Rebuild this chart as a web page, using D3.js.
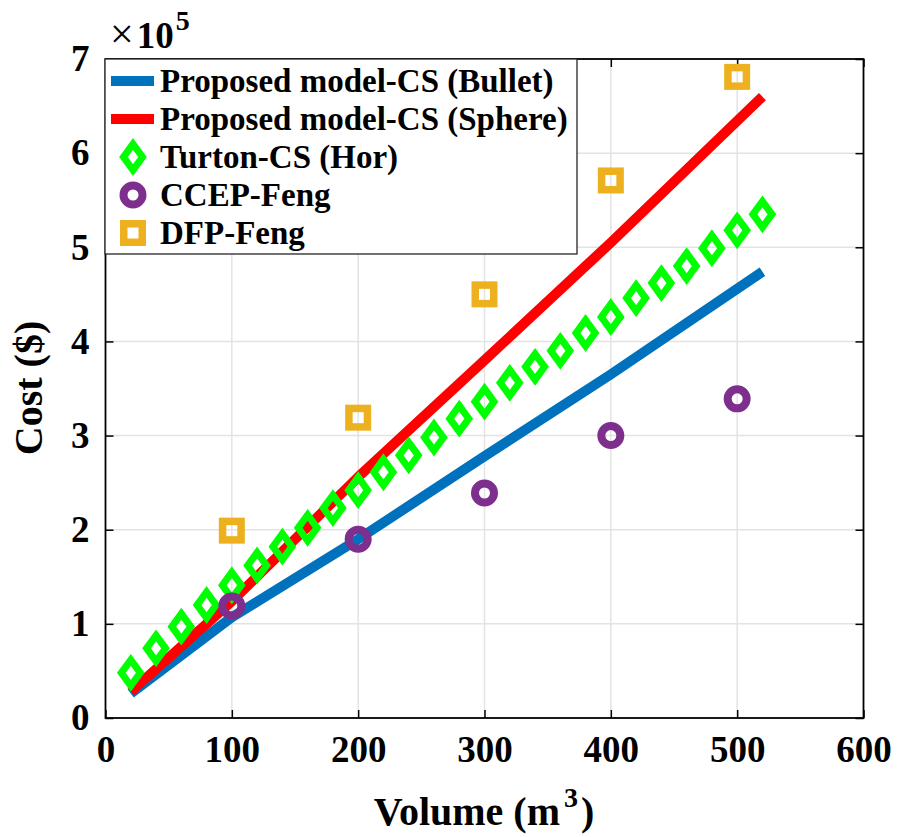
<!DOCTYPE html>
<html><head><meta charset="utf-8">
<script src="https://cdn.jsdelivr.net/npm/d3@7"></script>
<style>body{margin:0;background:#fff}svg{display:block}</style>
</head><body>
<svg id="c" width="901" height="837"></svg>
<script>
// ---- data ----
const xTicks = [0, 100, 200, 300, 400, 500, 600];
const yTicks = [0, 1, 2, 3, 4, 5, 6, 7]; // ×10^5
const lineX = [20, 100, 200, 300, 400, 520];
const bulletCost = [26000, 107000, 190000, 278000, 365000, 474000];
const sphereCost = [28000, 124000, 256000, 380000, 505000, 660000];
const turtonX = [20,40,60,80,100,120,140,160,180,200,220,240,260,280,300,320,340,360,380,400,420,440,460,480,500,520];
const turtonCost = [48000,74000,97000,120000,141000,162000,182000,202000,223000,242000,261000,279000,298000,318000,336000,356000,373000,390000,409000,426000,446000,462000,480000,499000,518000,535000];
const fengX = [100, 200, 300, 400, 500];
const ccepCost = [119000, 190000, 239000, 300000, 339000];
const dfpCost = [199000, 319000, 450000, 571000, 681000];
const legendLabels = ["Proposed model-CS (Bullet)", "Proposed model-CS (Sphere)", "Turton-CS (Hor)", "CCEP-Feng", "DFP-Feng"];

const colors = {blue:"#0072BD", red:"#FF0000", green:"#00FF00", purple:"#7E2F8E", orange:"#EDB120"};
const FONT = "'Liberation Serif','Times New Roman',Times,serif";

const svg = d3.select("#c");
const L = 105.5, R = 863.5, T = 59, B = 718;
const x = d3.scaleLinear().domain([0, 600]).range([L, R]);
const y = d3.scaleLinear().domain([0, 700000]).range([B, T]);

// grid
const g = svg.append("g");
g.selectAll(".gx").data(xTicks.slice(1, -1)).join("line")
  .attr("x1", d => x(d)).attr("x2", d => x(d)).attr("y1", T).attr("y2", B)
  .attr("stroke", "#e3e3e3").attr("stroke-width", 1.5);
g.selectAll(".gy").data(yTicks.slice(1, -1)).join("line")
  .attr("y1", d => y(d * 1e5)).attr("y2", d => y(d * 1e5)).attr("x1", L).attr("x2", R)
  .attr("stroke", "#e3e3e3").attr("stroke-width", 1.5);

// axes with inward ticks on all sides
const tickLen = 8;
const ax = svg.append("g").attr("transform", `translate(0,${B})`)
  .call(d3.axisBottom(x).tickValues(xTicks).tickSizeInner(-tickLen).tickSizeOuter(0).tickPadding(18));
const axTop = svg.append("g").attr("transform", `translate(0,${T})`)
  .call(d3.axisTop(x).tickValues(xTicks).tickSizeInner(-tickLen).tickSizeOuter(0).tickFormat(""));
const ay = svg.append("g").attr("transform", `translate(${L},0)`)
  .call(d3.axisLeft(y).tickValues(yTicks.map(v => v * 1e5)).tickFormat(d => d / 1e5).tickSizeInner(-tickLen).tickSizeOuter(0).tickPadding(16));
const ayR = svg.append("g").attr("transform", `translate(${R},0)`)
  .call(d3.axisRight(y).tickValues(yTicks.map(v => v * 1e5)).tickSizeInner(-tickLen).tickSizeOuter(0).tickFormat(""));
[ax, axTop, ay, ayR].forEach(a => {
  a.select(".domain").remove();
  a.selectAll(".tick line").attr("stroke", "#000").attr("stroke-width", 1.5);
  a.selectAll("text").attr("font-family", FONT).attr("font-weight", "bold").attr("font-size", 37).attr("fill", "#000");
});
ax.selectAll("text").attr("dy", "0.71em");
svg.append("rect").attr("x", L).attr("y", T).attr("width", R - L).attr("height", B - T)
  .attr("fill", "none").attr("stroke", "#000").attr("stroke-width", 1.8);

// lines
const line = d3.line().x(d => x(d[0])).y(d => y(d[1]));
svg.append("path").datum(lineX.map((v, i) => [v, bulletCost[i]])).attr("d", line)
  .attr("fill", "none").attr("stroke", colors.blue).attr("stroke-width", 10).attr("stroke-linejoin", "round");
svg.append("path").datum(lineX.map((v, i) => [v, sphereCost[i]])).attr("d", line)
  .attr("fill", "none").attr("stroke", colors.red).attr("stroke-width", 10).attr("stroke-linejoin", "round");

// markers
const dW = 9.5, dH = 13;
const diamondPath = `M0,${-dH}L${dW},0L0,${dH}L${-dW},0Z`;
function diamond(sel) { sel.attr("d", diamondPath).attr("fill", "none").attr("stroke", colors.green).attr("stroke-width", 7); }
function circle(sel) { sel.attr("r", 9.5).attr("fill", "none").attr("stroke", colors.purple).attr("stroke-width", 8); }
function square(sel) { sel.attr("x", -9.25).attr("y", -9.25).attr("width", 18.5).attr("height", 18.5).attr("fill", "none").attr("stroke", colors.orange).attr("stroke-width", 7.5); }

svg.append("g").selectAll("path").data(turtonX.map((v, i) => [v, turtonCost[i]])).join("path")
  .attr("transform", d => `translate(${x(d[0])},${y(d[1])})`).call(diamond);
svg.append("g").selectAll("circle").data(fengX.map((v, i) => [v, ccepCost[i]])).join("circle")
  .attr("cx", d => x(d[0])).attr("cy", d => y(d[1])).call(circle);
svg.append("g").selectAll("rect").data(fengX.map((v, i) => [v, dfpCost[i]])).join("rect")
  .attr("transform", d => `translate(${x(d[0])},${y(d[1])})`).call(square);

// legend
const lg = svg.append("g");
lg.append("rect").attr("x", 105).attr("y", 59).attr("width", 472).attr("height", 195)
  .attr("fill", "#fff").attr("stroke", "#262626").attr("stroke-width", 1.3);
legendLabels.forEach((lab, i) => {
  const cy = 81 + i * 38;
  const row = lg.append("g");
  if (i === 0 || i === 1) {
    row.append("line").attr("x1", 111).attr("x2", 154).attr("y1", cy).attr("y2", cy)
      .attr("stroke", i === 0 ? colors.blue : colors.red).attr("stroke-width", 10);
  } else if (i === 2) {
    row.append("path").attr("transform", `translate(133,${cy})`).call(diamond);
  } else if (i === 3) {
    row.append("circle").attr("cx", 133).attr("cy", cy).call(circle);
  } else {
    row.append("rect").attr("transform", `translate(133,${cy})`).call(square);
  }
  row.append("text").attr("x", 160).attr("y", cy + 11).text(lab)
    .attr("font-family", FONT).attr("font-weight", "bold").attr("font-size", 33).attr("fill", "#000");
});

// exponent label
const ex = svg.append("text").attr("x", 110).attr("y", 48).attr("font-family", FONT).attr("fill", "#000");
ex.append("tspan").text("×").attr("font-size", 42);
ex.append("tspan").text("10").attr("font-size", 37).attr("font-weight", "bold").attr("dx", 3);
ex.append("tspan").text("5").attr("font-size", 28).attr("font-weight", "bold").attr("dy", -18).attr("dx", 2);

// axis labels
const xl = svg.append("text").attr("x", 484).attr("y", 825).attr("text-anchor", "middle")
  .attr("font-family", FONT).attr("font-weight", "bold").attr("font-size", 40).attr("fill", "#000");
xl.append("tspan").text("Volume (m");
xl.append("tspan").text("3").attr("font-size", 28).attr("dy", -18).attr("dx", 4);
xl.append("tspan").text(")").attr("dy", 18).attr("dx", 3);

svg.append("text").attr("transform", "translate(42,388) rotate(-90)").attr("text-anchor", "middle")
  .attr("font-family", FONT).attr("font-weight", "bold").attr("font-size", 40).attr("fill", "#000")
  .text("Cost ($)");
</script>
</body></html>
